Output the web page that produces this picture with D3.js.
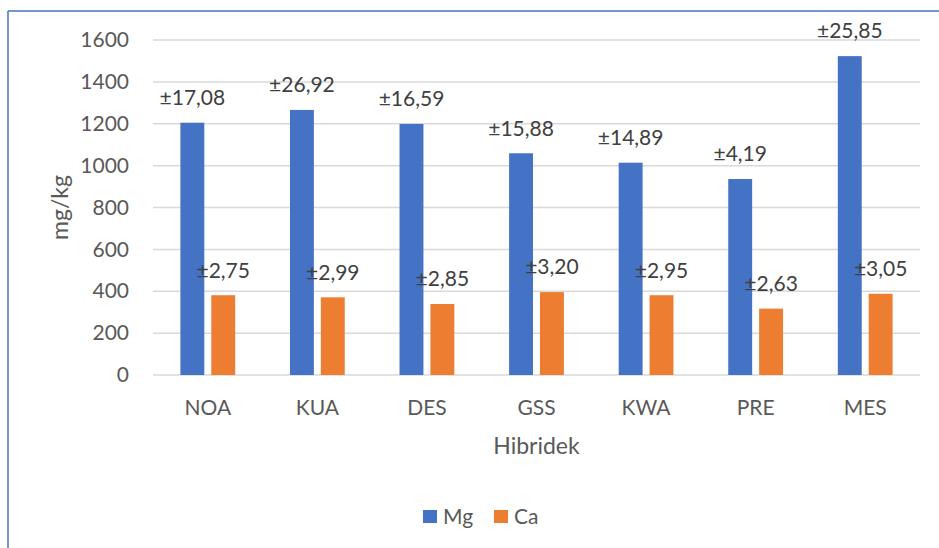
<!DOCTYPE html>
<html>
<head>
<meta charset="utf-8">
<script src="https://cdn.jsdelivr.net/npm/d3@7"></script>
<style>
  html, body { margin: 0; padding: 0; background: #ffffff; }
  svg { display: block; font-family: Lato, "Open Sans", sans-serif; }
</style>
</head>
<body>
<svg id="chart" width="939" height="548"></svg>
<script>
// Hybrids on the x axis
const categories = ["NOA", "KUA", "DES", "GSS", "KWA", "PRE", "MES"];
// Series names
const seriesNames = ["Mg", "Ca"];
// Mean concentrations, mg/kg
const mgValues = [1205, 1266, 1199, 1059, 1014, 936, 1523];
const caValues = [381, 371, 339, 396, 381, 317, 388];
// Standard deviations printed above bars
const mgErrors = ["±17,08", "±26,92", "±16,59", "±15,88", "±14,89", "±4,19", "±25,85"];
const caErrors = ["±2,75", "±2,99", "±2,85", "±3,20", "±2,95", "±2,63", "±3,05"];
// Y axis ticks
const yTicks = [0, 200, 400, 600, 800, 1000, 1200, 1400, 1600];

const colors = { Mg: "#4472C4", Ca: "#ED7D31" };

const svg = d3.select("#chart");

// Frame lines along the top and left edges
svg.append("line").attr("x1", 8).attr("x2", 939).attr("y1", 11).attr("y2", 11)
  .attr("stroke", "#4472C4").attr("stroke-width", 1.5);
svg.append("line").attr("x1", 8).attr("x2", 8).attr("y1", 11).attr("y2", 548)
  .attr("stroke", "#4472C4").attr("stroke-width", 1.5);

const plot = { left: 153, right: 920, top: 40, bottom: 375 };

const x = d3.scaleBand().domain(categories)
  .range([plot.left, plot.right]).paddingInner(0.5).paddingOuter(0.25);
const xs = d3.scaleBand().domain(seriesNames)
  .range([0, x.bandwidth()]).paddingInner(0.226);
const y = d3.scaleLinear().domain([0, 1600]).range([plot.bottom, plot.top]);

// Horizontal gridlines
svg.append("g").selectAll("line").data(yTicks).join("line")
  .attr("x1", plot.left).attr("x2", plot.right)
  .attr("y1", d => y(d)).attr("y2", d => y(d))
  .attr("stroke", "#D9D9D9").attr("stroke-width", 1.5);

// Y axis labels
const yAxis = d3.axisLeft(y).tickValues(yTicks).tickFormat(d3.format("d"))
  .tickSize(0).tickPadding(24);
const gy = svg.append("g").attr("transform", `translate(${plot.left},0)`).call(yAxis);
gy.select(".domain").remove();
gy.selectAll("text").attr("fill", "#595959").attr("font-size", 21)
  .attr("font-family", "Lato, sans-serif");

// X axis labels
const xAxis = d3.axisBottom(x).tickSize(0).tickPadding(25);
const gx = svg.append("g").attr("transform", `translate(0,${plot.bottom})`).call(xAxis);
gx.select(".domain").remove();
gx.selectAll("text").attr("fill", "#595959").attr("font-size", 21)
  .attr("font-family", "Lato, sans-serif");

// Bars
const rows = categories.map((c, i) => ({
  cat: c,
  items: [
    { key: "Mg", value: mgValues[i], label: mgErrors[i] },
    { key: "Ca", value: caValues[i], label: caErrors[i] }
  ]
}));

const groups = svg.append("g").selectAll("g").data(rows).join("g")
  .attr("transform", d => `translate(${x(d.cat)},0)`);

groups.selectAll("rect").data(d => d.items).join("rect")
  .attr("x", d => xs(d.key))
  .attr("width", xs.bandwidth())
  .attr("y", d => y(d.value))
  .attr("height", d => y(0) - y(d.value))
  .attr("fill", d => colors[d.key]);

// Error labels above bars
groups.selectAll("text.lbl").data(d => d.items).join("text")
  .attr("class", "lbl")
  .attr("x", d => xs(d.key) + xs.bandwidth() / 2)
  .attr("y", d => y(d.value) - 25)
  .attr("dy", "0.35em")
  .attr("text-anchor", "middle")
  .attr("font-size", 21)
  .attr("fill", "#404040")
  .text(d => d.label);

// Axis titles
svg.append("text")
  .attr("transform", `translate(60,${(plot.top + plot.bottom) / 2}) rotate(-90)`)
  .attr("text-anchor", "middle").attr("dy", "0.35em")
  .attr("font-size", 23).attr("fill", "#595959")
  .text("mg/kg");

svg.append("text")
  .attr("x", (plot.left + plot.right) / 2).attr("y", 446)
  .attr("text-anchor", "middle").attr("dy", "0.35em")
  .attr("font-size", 23).attr("fill", "#595959")
  .text("Hibridek");

// Legend
const legend = svg.append("g");
const legendX = [423, 494];
seriesNames.forEach((s, i) => {
  legend.append("rect").attr("x", legendX[i]).attr("y", 510)
    .attr("width", 14).attr("height", 13).attr("fill", colors[s]);
  legend.append("text").attr("x", legendX[i] + 20).attr("y", 517)
    .attr("dy", "0.35em").attr("font-size", 21).attr("fill", "#595959")
    .text(s);
});
</script>
</body>
</html>
